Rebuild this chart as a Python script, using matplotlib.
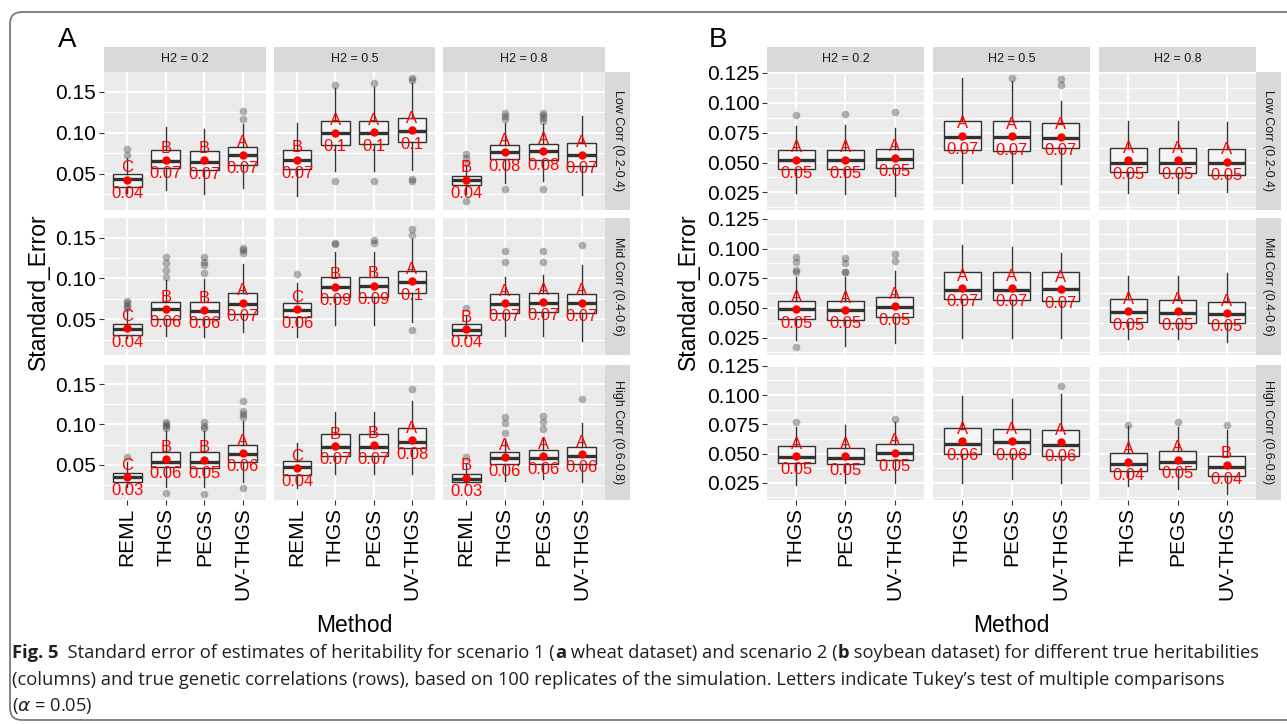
import matplotlib
matplotlib.use("Agg")
import matplotlib.pyplot as plt
from matplotlib.patches import FancyBboxPatch
from matplotlib.transforms import IdentityTransform

W, H = 1287, 724
plt.rcParams['font.family'] = ['Liberation Sans', 'DejaVu Sans']

h2_labels = ["H2 = 0.2", "H2 = 0.5", "H2 = 0.8"]
corr_labels = ["Low Corr (0.2-0.4)", "Mid Corr (0.4-0.6)", "High Corr (0.6-0.8)"]
methods_a = ["REML", "THGS", "PEGS", "UV-THGS"]
methods_b = ["THGS", "PEGS", "UV-THGS"]

# panel A (wheat): values indexed [row corr][col H2][method]
a_lo = [[[.0265, .0298, .0257, .0327], [.0233, .0531, .0531, .0551], [.0250, .0388, .0408, .0245]],
        [[.0268, .0297, .0280, .0337], [.0280, .0431, .0431, .0459], [.0268, .0289, .0297, .0228]],
        [[.0224, .0224, .0224, .0286], [.0204, .0388, .0388, .0380], [.0245, .0294, .0318, .0278]]]
a_q1 = [[[.0339, .0571, .0551, .0604], [.0563, .0849, .0865, .0882], [.0367, .0682, .0673, .0600]],
        [[.0309, .0500, .0500, .0565], [.0520, .0768, .0768, .0817], [.0309, .0581, .0589, .0573]],
        [[.0278, .0469, .0457, .0531], [.0367, .0604, .0604, .0702], [.0286, .0506, .0510, .0506]]]
a_med = [[[.0437, .0661, .0645, .0727], [.0669, .1000, .1000, .1020], [.0429, .0763, .0776, .0735]],
         [[.0374, .0618, .0602, .0687], [.0614, .0898, .0906, .0959], [.0370, .0691, .0703, .0695]],
         [[.0347, .0539, .0531, .0629], [.0465, .0722, .0722, .0776], [.0318, .0580, .0588, .0604]]]
a_q3 = [[[.0498, .0788, .0776, .0824], [.0792, .1143, .1143, .1176], [.0478, .0853, .0861, .0878]],
        [[.0439, .0711, .0711, .0821], [.0695, .1020, .1020, .1093], [.0439, .0809, .0817, .0809]],
        [[.0396, .0661, .0653, .0747], [.0543, .0878, .0886, .0959], [.0388, .0661, .0686, .0722]]]
a_hi = [[[.0694, .1073, .1041, .1102], [.1122, .1551, .1560, .1612], [.0600, .1122, .1110, .1204]],
        [[.0614, .0980, .0992, .1171], [.0947, .1325, .1325, .1488], [.0533, .1020, .1041, .1163]],
        [[.0531, .0918, .0918, .1041], [.0767, .1151, .1151, .1286], [.0510, .0816, .0837, .1020]]]
a_mean = [[[.0429, .0669, .0665, .0735], [.0673, .1000, .1008, .1029], [.0429, .0763, .0776, .0735]],
          [[.0386, .0626, .0614, .0703], [.0618, .0898, .0911, .0963], [.0378, .0699, .0711, .0703]],
          [[.0347, .0567, .0563, .0645], [.0457, .0731, .0739, .0804], [.0339, .0592, .0608, .0633]]]
a_out = [[[[.0808, .0735], [], [], [.1265, .1163]],
          [[], [.1584, .0408], [.1604, .0416], [.1661, .1645, .0435, .0415]],
          [[.0744, .0695, .0638, .0171], [.1237, .1204, .1171, .0314], [.1245, .1212, .1180, .1143, .0314], []]],
         [[[.0728, .0695, .0663, .0634], [.1264, .1183, .1102, .1020], [.1264, .1203, .1163, .1069], [.1374, .1346, .1305]],
          [[.1053], [.1439, .1419], [.1467, .1435], [.1610, .1528, .0370]],
          [[.0634], [.1337, .1195], [.1337, .1195], [.1415]]],
         [[[.0600], [.1029, .1000, .0980, .0960, .0143], [.1029, .0980, .0960, .0139], [.1286, .1163, .1131, .1094, .0204]],
          [[], [], [], [.1437]],
          [[.0600], [.1094, .1020, .0898], [.1102, .1029, .0947], [.1314]]]]
a_let = [[["C", "B", "B", "A"], ["B", "A", "A", "A"], ["B", "A", "A", "A"]],
         [["C", "B", "B", "A"], ["C", "B", "B", "A"], ["B", "A", "A", "A"]],
         [["C", "B", "B", "A"], ["C", "B", "B", "A"], ["B", "A", "A", "A"]]]
a_num = [[["0.04", "0.07", "0.07", "0.07"], ["0.07", "0.1", "0.1", "0.1"], ["0.04", "0.08", "0.08", "0.07"]],
         [["0.04", "0.06", "0.06", "0.07"], ["0.06", "0.09", "0.09", "0.1"], ["0.04", "0.07", "0.07", "0.07"]],
         [["0.03", "0.06", "0.05", "0.06"], ["0.04", "0.07", "0.07", "0.08"], ["0.03", "0.06", "0.06", "0.06"]]]

# panel B (soybean)
b_lo = [[[.0242, .0233, .0219], [.0331, .0331, .0317], [.0242, .0242, .0253]],
        [[.0226, .0175, .0203], [.0249, .0249, .0249], [.0240, .0240, .0212]],
        [[.0231, .0245, .0251], [.0251, .0282, .0251], [.0222, .0200, .0152]]]
b_q1 = [[[.0449, .0444, .0455], [.0604, .0598, .0618], [.0419, .0416, .0396]],
        [[.0407, .0395, .0424], [.0573, .0565, .0559], [.0381, .0373, .0373]],
        [[.0421, .0407, .0441], [.0492, .0492, .0480], [.0350, .0367, .0307]]]
b_med = [[[.0522, .0522, .0528], [.0716, .0716, .0708], [.0500, .0500, .0494]],
         [[.0492, .0486, .0508], [.0650, .0650, .0661], [.0463, .0455, .0446]],
         [[.0472, .0458, .0508], [.0579, .0596, .0574], [.0415, .0429, .0387]]]
b_q3 = [[[.0604, .0604, .0615], [.0846, .0846, .0829], [.0618, .0621, .0610]],
        [[.0559, .0556, .0593], [.0799, .0805, .0805], [.0571, .0565, .0551]],
        [[.0565, .0551, .0582], [.0715, .0710, .0704], [.0506, .0523, .0483]]]
b_hi = [[[.0809, .0815, .0789], [.1208, .1180, .1011], [.0851, .0851, .0837]],
        [[.0757, .0757, .0814], [.1028, .1011, .0966], [.0771, .0768, .0791]],
        [[.0727, .0746, .0769], [.0996, .0967, .1010], [.0735, .0727, .0698]]]
b_mean = [[[.0525, .0525, .0539], [.0725, .0719, .0716], [.0520, .0520, .0508]],
          [[.0489, .0483, .0514], [.0669, .0669, .0658], [.0472, .0472, .0458]],
          [[.0480, .0475, .0508], [.0605, .0605, .0596], [.0432, .0449, .0398]]]
b_out = [[[[.0899], [.0904], [.0919]], [[], [.1205], [.1202, .1152]], [[], [], []]],
         [[[.0932, .0884, .0819, .0799, .0169], [.0924, .0881, .0805, .0800], [.0955, .0898]], [[], [], []], [[], [], []]],
         [[[.0766], [], [.0792]], [[], [], [.1081]], [[.0741], [.0766], [.0741]]]]
b_let = [[["A", "A", "A"], ["A", "A", "A"], ["A", "A", "A"]],
         [["A", "A", "A"], ["A", "A", "A"], ["A", "A", "A"]],
         [["A", "A", "A"], ["A", "A", "A"], ["A", "A", "B"]]]
b_num = [[["0.05", "0.05", "0.05"], ["0.07", "0.07", "0.07"], ["0.05", "0.05", "0.05"]],
         [["0.05", "0.05", "0.05"], ["0.07", "0.07", "0.07"], ["0.05", "0.05", "0.05"]],
         [["0.05", "0.05", "0.05"], ["0.06", "0.06", "0.06"], ["0.04", "0.05", "0.04"]]]

fig = plt.figure(figsize=(W / 100, H / 100), dpi=100)
fig.patch.set_facecolor('white')


def rect(x0, y0, x1, y1):
    # pixel box (top-left origin) -> figure fraction
    return [x0 / W, 1 - y1 / H, (x1 - x0) / W, (y1 - y0) / H]


def strip(x0, y0, x1, y1, label, rot=0):
    s = fig.add_axes(rect(x0, y0, x1, y1))
    s.set_facecolor('#D9D9D9')
    s.set_xticks([])
    s.set_yticks([])
    for sp in s.spines.values():
        sp.set_visible(False)
    s.text(0.5, 0.5, label, ha='center', va='center', rotation=rot,
           fontsize=9, color='#1A1A1A', transform=s.transAxes)


rows_px = [(72, 210), (218, 355), (365, 500)]


def draw_panel(cols_px, strip_x, methods, lo, q1, med, q3, hi, mean, out, lets, nums,
               ylim, yticks, ylabels, yminor):
    n = len(methods)
    pos = list(range(1, n + 1))
    for r, (y0, y1) in enumerate(rows_px):
        for c, (x0, x1) in enumerate(cols_px):
            ax = fig.add_axes(rect(x0, y0, x1, y1))
            ax.set_facecolor('#EBEBEB')
            for sp in ax.spines.values():
                sp.set_visible(False)
            ax.set_axisbelow(True)
            stats = []
            for m in range(n):
                stats.append(dict(med=med[r][c][m], q1=q1[r][c][m], q3=q3[r][c][m],
                                  whislo=lo[r][c][m], whishi=hi[r][c][m],
                                  fliers=out[r][c][m]))
            ax.bxp(stats, positions=pos, widths=0.75, patch_artist=True, showcaps=False,
                   boxprops=dict(facecolor='#F4F4F4', edgecolor='#333333', linewidth=1.0),
                   medianprops=dict(color='#333333', linewidth=2.4),
                   whiskerprops=dict(color='#333333', linewidth=1.0),
                   flierprops=dict(marker='o', markerfacecolor='#444444',
                                   markeredgecolor='none', alpha=0.4, markersize=5.5))
            ax.plot(pos, mean[r][c], 'o', color='red', markersize=5, zorder=5)
            for m in range(n):
                ax.annotate(lets[r][c][m], (pos[m], mean[r][c][m]), xytext=(0, 8.5),
                            textcoords='offset points', ha='center', va='center',
                            color='red', fontsize=12, zorder=6)
                ax.annotate(nums[r][c][m], (pos[m], mean[r][c][m]), xytext=(0, -10),
                            textcoords='offset points', ha='center', va='center',
                            color='red', fontsize=12, zorder=6)
            ax.set_xlim(0.4, n + 0.6)
            ax.set_ylim(*ylim)
            ax.set_yticks(yticks)
            ax.set_yticklabels(ylabels)
            ax.set_yticks(yminor, minor=True)
            ax.set_xticks(pos)
            ax.set_xticklabels(methods, rotation=90)
            ax.grid(True, which='major', color='white', linewidth=1.4)
            ax.grid(True, which='minor', axis='y', color='white', linewidth=0.7)
            ax.tick_params(which='major', length=3.5, width=0.8, color='#333333',
                           labelsize=15, labelcolor='black', pad=2)
            ax.tick_params(which='minor', length=0)
            if c != 0:
                ax.tick_params(left=False, labelleft=False)
            if r != 2:
                ax.tick_params(bottom=False, labelbottom=False)
            if r == 0:
                strip(x0, 47, x1, 72, h2_labels[c])
        strip(strip_x[0], y0, strip_x[1], y1, corr_labels[r], rot=270)


draw_panel([(104, 266), (274, 435), (443, 605)], (605, 630), methods_a,
           a_lo, a_q1, a_med, a_q3, a_hi, a_mean, a_out, a_let, a_num,
           (0.006, 0.174), [0.05, 0.10, 0.15], ["0.05", "0.10", "0.15"],
           [0.025, 0.075, 0.125])
draw_panel([(767, 924), (933, 1090), (1099, 1256)], (1256, 1281), methods_b,
           b_lo, b_q1, b_med, b_q3, b_hi, b_mean, b_out, b_let, b_num,
           (0.0103, 0.1257), [0.025, 0.05, 0.075, 0.10, 0.125],
           ["0.025", "0.050", "0.075", "0.100", "0.125"],
           [0.0125, 0.0375, 0.0625, 0.0875, 0.1125])

# panel tags and axis titles
fig.text(67 / W, 1 - 40 / H, "A", fontsize=20, ha='center', va='center')
fig.text(718 / W, 1 - 40 / H, "B", fontsize=20, ha='center', va='center')
for xl in (38, 688):
    fig.text(xl / W, 1 - 292 / H, "Standard_Error", rotation=90, fontsize=16.5,
             ha='center', va='center')
for xm in (354, 1011):
    fig.text(xm / W, 1 - 625 / H, "Method", fontsize=16.5, ha='center', va='center')

# rounded frame around the figure
frame = FancyBboxPatch((10, 4), 1320, 708, boxstyle="round,pad=0,rounding_size=12",
                       transform=IdentityTransform(), fill=False,
                       edgecolor='#7A7A7A', linewidth=1.3)
fig.add_artist(frame)

# caption with mixed weights
cap_font = ['Open Sans', 'DejaVu Sans']
cap_size = 13.2
renderer = fig.canvas.get_renderer()


def cap_line(y_px, parts):
    x = 12
    for txt, wt in parts:
        t = fig.text(x / W, 1 - y_px / H, txt, fontsize=cap_size, fontweight=wt,
                     family=cap_font, color='#231F20', ha='left', va='center')
        bb = t.get_window_extent(renderer=renderer)
        x += bb.width


cap_line(653, [("Fig. 5", 'bold'),
               ("  Standard error of estimates of heritability for scenario 1 (", 'normal'),
               ("a", 'bold'),
               (" wheat dataset) and scenario 2 (", 'normal'),
               ("b", 'bold'),
               (" soybean dataset) for different true heritabilities", 'normal')])
cap_line(680, [("(columns) and true genetic correlations (rows), based on 100 replicates "
                "of the simulation. Letters indicate Tukey\u2019s test of multiple comparisons",
                'normal')])
cap_line(706, [(r"($\alpha$ = 0.05)", 'normal')])

fig.savefig("out.png", dpi=100)
